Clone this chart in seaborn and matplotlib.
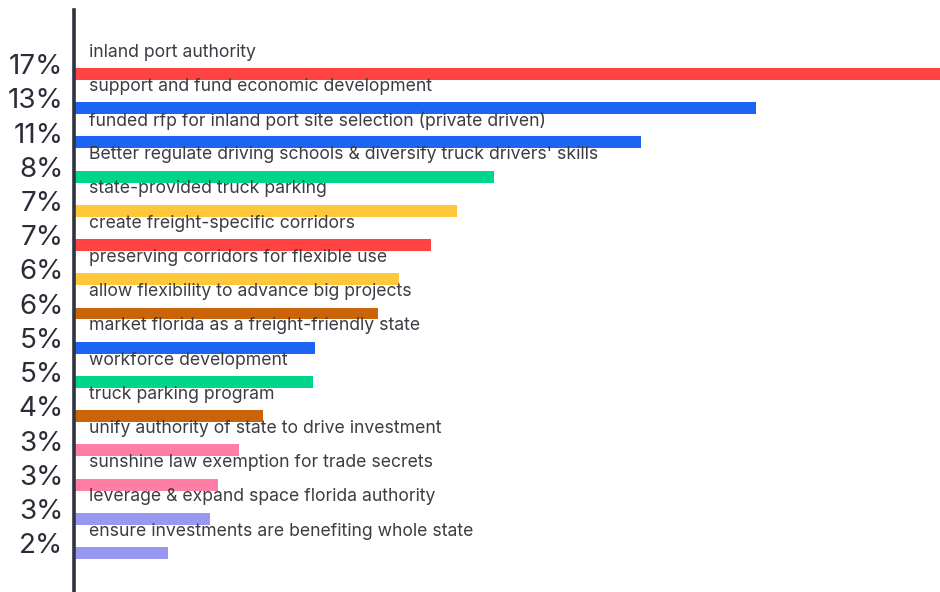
import matplotlib
matplotlib.use("Agg")
import matplotlib.pyplot as plt
import seaborn as sns
import pandas as pd

categories = [
    "inland port authority",
    "support and fund economic development",
    "funded rfp for inland port site selection (private driven)",
    "Better regulate driving schools & diversify truck drivers' skills",
    "state-provided truck parking",
    "create freight-specific corridors",
    "preserving corridors for flexible use",
    "allow flexibility to advance big projects",
    "market florida as a freight-friendly state",
    "workforce development",
    "truck parking program",
    "unify authority of state to drive investment",
    "sunshine law exemption for trade secrets",
    "leverage & expand space florida authority",
    "ensure investments are benefiting whole state",
]
values = [17.0, 13.0, 10.8, 8.0, 7.3, 6.8, 6.2, 5.8, 4.6, 4.55, 3.6, 3.15, 2.75, 2.6, 1.8]
pct_labels = ["17%", "13%", "11%", "8%", "7%", "7%", "6%", "6%", "5%", "5%", "4%", "3%", "3%", "3%", "2%"]
bar_colors = ["#FF4242", "#1E64F2", "#1E64F2", "#00D68A", "#FFC83A", "#FF4242", "#FFC83A",
              "#C96408", "#1E64F2", "#00D68A", "#C96408", "#FF7EA6", "#FF7EA6", "#9898F0", "#9898F0"]

sns.set_style("white")
plt.rcParams["font.family"] = ["Inter", "DejaVu Sans"]

df = pd.DataFrame({"cat": categories, "val": values})

fig = plt.figure(figsize=(9.4, 5.92), dpi=100)
ax = fig.add_axes([74 / 940, 0, 1 - 74 / 940, 1 - 10 / 592])

sns.barplot(data=df, x="val", y="cat", hue="cat", palette=bar_colors, order=categories,
            hue_order=categories, legend=False, width=0.35, orient="h", ax=ax,
            edgecolor="none", saturation=1)

ax.set_xlim(0, 16.5)
ax.set_ylim(15.14, -1.87)
ax.set_xlabel("")
ax.set_ylabel("")
ax.set_xticks([])
ax.set_yticks([])
for s in ["top", "right", "bottom"]:
    ax.spines[s].set_visible(False)
ax.spines["left"].set_color("#2f3440")
ax.spines["left"].set_linewidth(2.6)

for i, (lab, pct) in enumerate(zip(categories, pct_labels)):
    ax.text(0.28, i - 0.64, lab, va="center", ha="left", fontsize=12.7, color="#3c3c44")
    ax.text(-0.2, i - 0.2, pct, va="center", ha="right", fontsize=20, color="#2a2d38",
            clip_on=False)

fig.savefig("out.png", dpi=100)
